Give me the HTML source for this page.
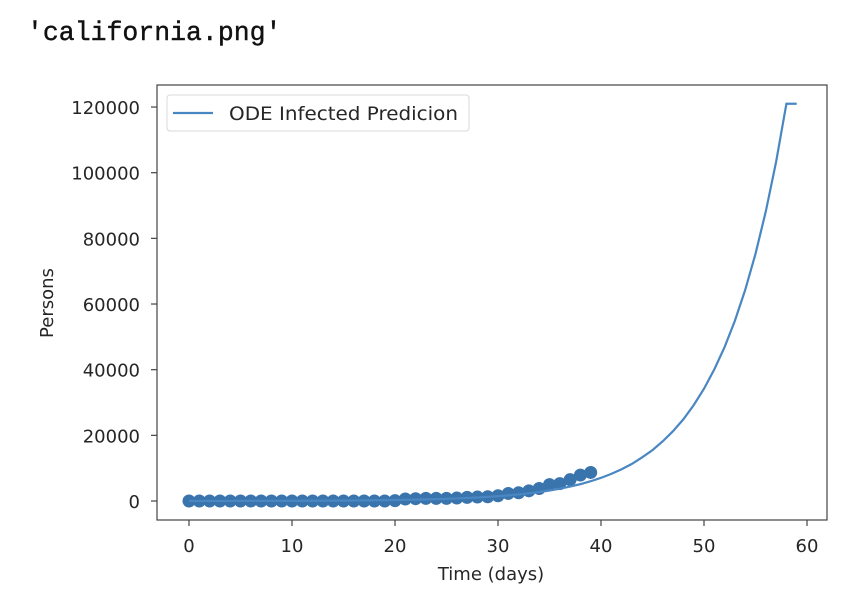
<!DOCTYPE html>
<html><head><meta charset="utf-8"><style>
html,body{margin:0;padding:0;background:#fff;width:868px;height:590px;overflow:hidden}
svg text{font-family:"DejaVu Sans","Liberation Sans",sans-serif;fill:#262626}
</style></head><body>
<svg width="868" height="590" viewBox="0 0 868 590">
<text x="27" y="40" style="font-family:'Liberation Mono',monospace;font-size:26.5px;fill:#111;stroke:#111;stroke-width:0.4">'california.png'</text>
<g id="plot"></g>
</svg>
<script>
const predDays=[0,1,2,3,4,5,6,7,8,9,10,11,12,13,14,15,16,17,18,19,20,21,22,23,24,25,26,27,28,29,30,31,32,33,34,35,36,37,38,39,40,41,42,43,44,45,46,47,48,49,50,51,52,53,54,55,56,57,58,59];
const predValues=[13,15,18,21,25,29,34,39,46,54,63,74,86,101,118,138,162,190,222,260,305,355,415,485,570,665,780,910,1060,1250,1460,1710,2000,2340,2740,3200,3750,4390,5140,6020,7050,8260,9670,11300,13300,15500,18200,21300,24900,29200,34200,40100,46900,54900,64300,75300,88200,103300,121000,121000];
const obsDays=[0,1,2,3,4,5,6,7,8,9,10,11,12,13,14,15,16,17,18,19,20,21,22,23,24,25,26,27,28,29,30,31,32,33,34,35,36,37,38,39];
const obsValues=[0,0,0,0,0,0,0,0,0,0,0,0,0,0,0,0,0,0,0,0,100,600,700,800,800,800,900,1100,1200,1300,1600,2300,2500,3100,3800,5000,5300,6500,7900,8700];
const xTicks=[0,10,20,30,40,50,60];
const yTicks=[0,20000,40000,60000,80000,100000,120000];
const L=157,R=827,T=85,B=520;
const xs=d=>189+d*10.3;
const ys=v=>501-v*0.003283;
const NS="http://www.w3.org/2000/svg";
const g=document.getElementById('plot');
function mk(t,a,p){const e=document.createElementNS(NS,t);for(const k in a)e.setAttribute(k,a[k]);(p||g).appendChild(e);return e;}
obsDays.forEach((d,i)=>{const c=mk('circle',{cx:xs(d),cy:ys(obsValues[i]),r:6.5,fill:'#3a74ad'});

});
const pl=mk('polyline',{points:predDays.map((d,i)=>xs(d)+','+ys(predValues[i])).join(' '),fill:'none',stroke:'#4a87c2','stroke-width':2.2});


const fr=mk('rect',{x:L,y:T,width:R-L,height:B-T,fill:'none',stroke:'#444','stroke-width':1.2});


xTicks.forEach(t=>{const x=xs(t);mk('line',{x1:x,x2:x,y1:B,y2:B+6,stroke:'#444','stroke-width':1.2});
const tx=mk('text',{x:x,y:B+32,'text-anchor':'middle','font-size':'18'});tx.textContent=t;

});
yTicks.forEach(t=>{const y=ys(t);mk('line',{x1:L-6,x2:L,y1:y,y2:y,stroke:'#444','stroke-width':1.2});
const tx=mk('text',{x:L-17,y:y+7,'text-anchor':'end','font-size':'18'});tx.textContent=t;

});
const xl=mk('text',{x:491,y:580,'text-anchor':'middle','font-size':'18'});xl.textContent='Time (days)';


const yl=mk('text',{x:0,y:0,'text-anchor':'middle','font-size':'18',transform:'translate(53,303) rotate(-90)'});yl.textContent='Persons';


const lg=mk('g',{});


mk('rect',{x:167,y:95,width:302,height:36,rx:3,fill:'#fff',stroke:'#d8d8d8'},lg);
mk('line',{x1:173,x2:213,y1:113,y2:113,stroke:'#4a87c2','stroke-width':2.2},lg);
const lt=mk('text',{x:229,y:120,'font-size':'19',textLength:'229',lengthAdjust:'spacingAndGlyphs'},lg);lt.textContent='ODE Infected Predicion';


</script>
</body></html>
